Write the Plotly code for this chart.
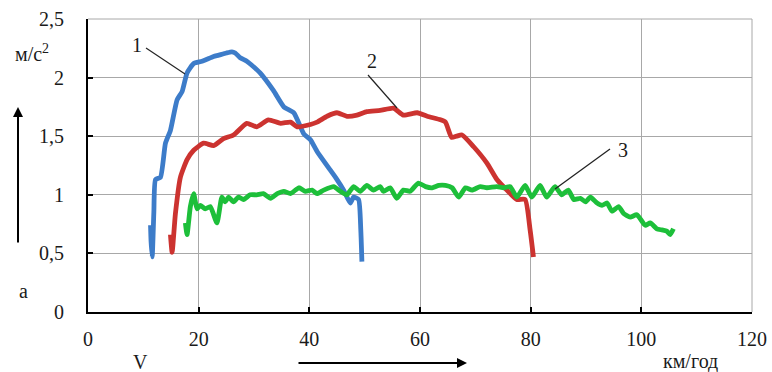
import plotly.graph_objects as go

# ---- data ----
x_tick_vals = [0, 20, 40, 60, 80, 100, 120]
x_tick_text = ["0", "20", "40", "60", "80", "100", "120"]
y_tick_vals = [0, 0.5, 1, 1.5, 2, 2.5]
y_tick_text = ["0", "0,5", "1", "1,5", "2", "2,5"]

v1 = [11.3, 11.4, 11.6, 11.9, 12.2, 13.1, 14.0, 14.9, 16.1, 17.0, 17.9, 19.1, 20.6, 22.7,
      23.5, 25.0, 26.0, 26.6, 27.5, 28.7, 29.5, 31.1, 33.5, 35.4, 37.2, 39.0, 40.2, 41.4,
      43.8, 45.0, 46.2, 47.4, 48.0, 48.9, 49.3, 49.5]
a1 = [0.74, 0.60, 0.47, 0.85, 1.13, 1.15, 1.44, 1.55, 1.81, 1.88, 2.04, 2.12, 2.14, 2.18,
      2.19, 2.21, 2.22, 2.21, 2.17, 2.14, 2.11, 2.04, 1.89, 1.75, 1.70, 1.52, 1.47, 1.37,
      1.21, 1.13, 1.04, 0.93, 0.98, 0.96, 0.70, 0.43]

v2 = [14.9, 15.2, 15.8, 16.7, 17.9, 19.1, 20.9, 22.7, 24.5, 26.3, 28.7, 30.5, 32.6, 34.8,
      36.6, 37.8, 40.2, 41.4, 43.2, 45.0, 46.8, 48.6, 50.4, 52.8, 55.2, 57.0, 59.5, 61.3,
      63.7, 64.6, 65.7, 66.6, 67.6, 69.7, 72.1, 73.9, 75.7, 77.5, 79.0, 79.9, 80.5]
a2 = [0.66, 0.51, 0.84, 1.15, 1.30, 1.38, 1.44, 1.42, 1.48, 1.51, 1.61, 1.58, 1.64, 1.61,
      1.62, 1.58, 1.60, 1.62, 1.67, 1.70, 1.67, 1.68, 1.71, 1.72, 1.74, 1.68, 1.70, 1.67,
      1.64, 1.62, 1.49, 1.50, 1.51, 1.41, 1.27, 1.13, 1.04, 0.96, 0.96, 0.70, 0.47]

v3 = [17.6, 17.9, 18.5, 19.1, 19.7, 20.3, 21.2, 22.1, 23.3, 24.2, 24.8, 25.4, 26.3, 27.2,
      28.1, 29.3, 30.5, 31.7, 33.0, 34.2, 35.4, 36.6, 38.1, 39.3, 40.5, 41.4, 42.6, 44.4,
      45.6, 46.8, 48.0, 49.2, 50.4, 51.6, 52.8, 53.4, 54.6, 55.8, 57.0, 58.2, 59.7, 61.0,
      62.2, 63.4, 64.6, 65.8, 67.0, 68.2, 69.4, 70.9, 72.1, 73.9, 75.1, 76.3, 77.5, 79.0,
      80.2, 81.7, 82.9, 84.4, 85.6, 86.8, 87.8, 89.0, 89.9, 90.8, 92.0, 92.9, 93.8, 94.7,
      95.9, 96.8, 98.0, 99.2, 100.7, 101.6, 102.8, 103.7, 104.6, 105.2, 105.8]
a3 = [0.76, 0.66, 0.90, 1.01, 0.88, 0.91, 0.88, 0.90, 0.76, 0.98, 0.94, 0.98, 0.94, 0.98,
      0.96, 1.00, 1.00, 1.01, 0.97, 1.01, 1.03, 1.01, 1.06, 1.03, 1.04, 1.01, 1.04, 1.07,
      1.03, 1.00, 1.07, 1.03, 1.08, 1.04, 1.07, 1.03, 1.06, 0.97, 1.04, 1.03, 1.10, 1.07,
      1.06, 1.08, 1.08, 1.06, 0.98, 1.06, 1.04, 1.07, 1.06, 1.07, 1.06, 1.07, 0.98, 1.08,
      0.98, 1.08, 0.98, 1.07, 1.00, 1.04, 0.96, 0.97, 0.94, 0.98, 0.93, 0.91, 0.93, 0.86,
      0.90, 0.84, 0.81, 0.83, 0.74, 0.76, 0.71, 0.70, 0.69, 0.66, 0.71]

series = [("1", v1, a1, "#3D7CC9"), ("2", v2, a2, "#CC3330"), ("3", v3, a3, "#1DBF3A")]

FONT = "Liberation Serif"
W, H = 772, 372
L, R, T, B = 88, 20, 19, 60
PW, PH = W - L - R, H - T - B


def px(x):
    return (x - L) / PW


def py(y):
    return (H - B - y) / PH


fig = go.Figure()
for name, xs, ys, col in series:
    fig.add_trace(go.Scatter(x=xs, y=ys, mode="lines", name=name,
                             line=dict(color=col, width=4.8, shape="spline", smoothing=0.5)))

axis_common = dict(showline=True, linecolor="black", linewidth=2, ticks="inside",
                   ticklen=5, tickwidth=2, tickcolor="black", showgrid=True,
                   gridcolor="#A8A8A8", gridwidth=1, zeroline=False, automargin=False,
                   tickfont=dict(family=FONT, size=20, color="#1a1a1a"))

fig.update_layout(
    width=W, height=H, margin=dict(l=L, r=R, t=T, b=B, autoexpand=False),
    paper_bgcolor="white", plot_bgcolor="white", showlegend=False,
    font=dict(family=FONT, size=20, color="#1a1a1a"),
    xaxis=dict(range=[0, 120], tickmode="array", tickvals=x_tick_vals, ticktext=x_tick_text,
               ticklabelstandoff=8, **axis_common),
    yaxis=dict(range=[0, 2.5], tickmode="array", tickvals=y_tick_vals, ticktext=y_tick_text,
               ticklabelstandoff=18, **axis_common),
)

# border grid lines at top and right
fig.add_shape(type="line", xref="paper", yref="paper", x0=0, x1=1, y0=1, y1=1,
              line=dict(color="#A8A8A8", width=1))
fig.add_shape(type="line", xref="paper", yref="paper", x0=1, x1=1, y0=0, y1=1,
              line=dict(color="#A8A8A8", width=1))

txt = dict(family=FONT, size=20, color="#1a1a1a")
labels = [
    ("м/с<sup>2</sup>", 32, 53),
    ("a", 23, 291),
    ("V", 140, 362),
    ("км/год", 690, 361),
    ("1", 137, 45),
    ("2", 372, 61),
    ("3", 623, 150),
]
for t, x, y in labels:
    fig.add_annotation(text=t, xref="paper", yref="paper", x=px(x), y=py(y),
                       xanchor="center", yanchor="middle", showarrow=False, font=txt)

# leader lines for curve labels
for (x0, y0, x1, y1) in [(146, 48, 185, 74), (368, 75, 397, 108), (610, 149, 555, 189)]:
    fig.add_shape(type="line", xref="paper", yref="paper", x0=px(x0), y0=py(y0),
                  x1=px(x1), y1=py(y1), line=dict(color="#222", width=1.2))

# axis direction arrows
fig.add_annotation(xref="paper", yref="paper", x=px(18), y=py(107), ax=0, ay=137,
                   text="", showarrow=True, arrowhead=2, arrowsize=1, arrowwidth=2,
                   arrowcolor="black")
fig.add_annotation(xref="paper", yref="paper", x=px(467), y=py(363), ax=-170, ay=0,
                   text="", showarrow=True, arrowhead=2, arrowsize=1, arrowwidth=2,
                   arrowcolor="black")

fig.write_html(
    "out.html",
    config={"displayModeBar": False},
    post_script="document.body.style.margin='0';document.body.style.overflow='hidden';",
)
